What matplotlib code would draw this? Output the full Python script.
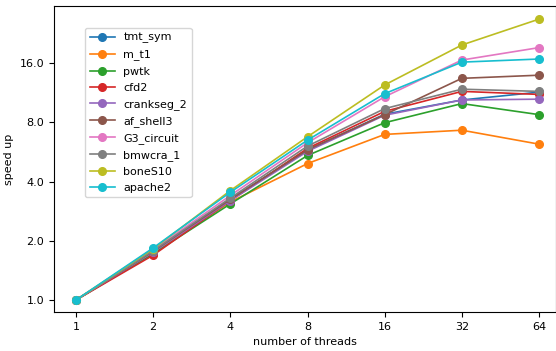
import matplotlib
matplotlib.use("Agg")
import matplotlib.pyplot as plt
from matplotlib.ticker import FixedLocator, FixedFormatter, NullLocator

plt.rcParams['font.size'] = 8

threads = [1, 2, 4, 8, 16, 32, 64]

names = ["tmt_sym", "m_t1", "pwtk", "cfd2", "crankseg_2",
         "af_shell3", "G3_circuit", "bmwcra_1", "boneS10", "apache2"]

tmt_sym = [1, 1.76, 3.25, 5.8, 8.8, 10.4, 11.4]
m_t1 = [1, 1.74, 3.15, 4.94, 6.95, 7.3, 6.2]
pwtk = [1, 1.72, 3.08, 5.43, 7.97, 9.97, 8.76]
cfd2 = [1, 1.69, 3.2, 5.9, 9.1, 11.5, 11.1]
crankseg_2 = [1, 1.75, 3.2, 5.7, 8.7, 10.4, 10.5]
af_shell3 = [1, 1.77, 3.25, 5.8, 8.76, 13.4, 13.9]
G3_circuit = [1, 1.80, 3.4, 6.3, 10.8, 16.6, 19.2]
bmwcra_1 = [1, 1.78, 3.3, 6.06, 9.4, 11.8, 11.5]
boneS10 = [1, 1.82, 3.6, 6.76, 12.4, 19.8, 26.8]
apache2 = [1, 1.84, 3.53, 6.5, 11.2, 16.2, 16.8]

series = [tmt_sym, m_t1, pwtk, cfd2, crankseg_2,
          af_shell3, G3_circuit, bmwcra_1, boneS10, apache2]

yticks = [1, 2, 4, 8, 16]

fig = plt.figure(figsize=(5.56, 3.51), dpi=100)
ax = fig.add_axes([54 / 556, 1 - 312 / 351, 502 / 556, 306 / 351])

for name, s in zip(names, series):
    ax.plot(threads, s, marker='o', markersize=5.5, linewidth=1.2, label=name)

ax.set_xscale('log', base=2)
ax.set_yscale('log', base=2)
ax.set_xlim(2 ** -0.285, 2 ** 6.22)
ax.set_ylim(2 ** -0.203, 2 ** 4.966)
ax.xaxis.set_major_locator(FixedLocator(threads))
ax.xaxis.set_major_formatter(FixedFormatter([str(t) for t in threads]))
ax.xaxis.set_minor_locator(NullLocator())
ax.yaxis.set_major_locator(FixedLocator(yticks))
ax.yaxis.set_major_formatter(FixedFormatter(["%.1f" % y for y in yticks]))
ax.yaxis.set_minor_locator(NullLocator())

ax.set_xlabel("number of threads")
ax.set_ylabel("speed up")
ax.legend(loc='upper left', bbox_to_anchor=(0.062, 0.928), borderaxespad=0,
          handlelength=2.25, labelspacing=0.55)

fig.savefig("out.png", dpi=100)
